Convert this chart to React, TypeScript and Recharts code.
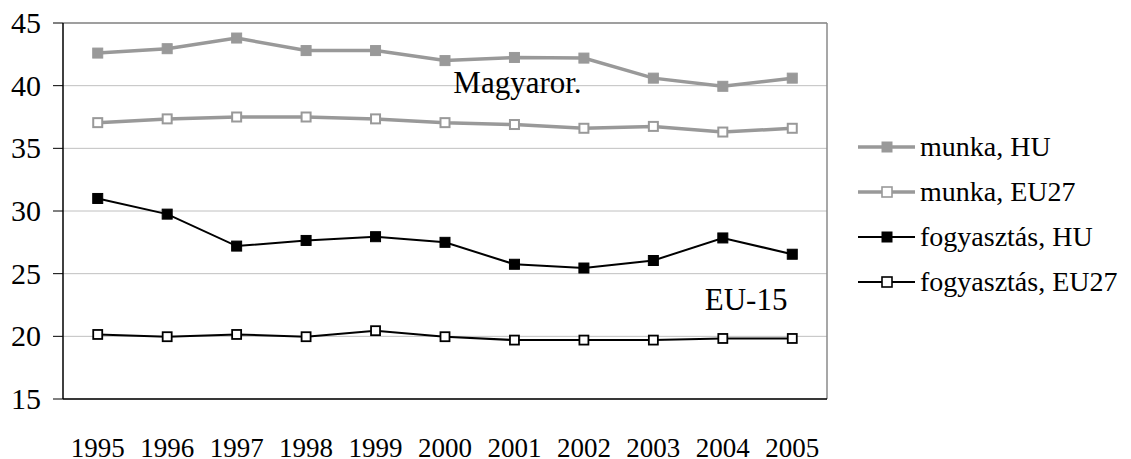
import React from 'react';
import {
  LineChart,
  Line,
  XAxis,
  YAxis,
  CartesianGrid,
  Legend,
  ReferenceLine,
  ReferenceDot,
} from 'recharts';

const years = ['1995', '1996', '1997', '1998', '1999', '2000', '2001', '2002', '2003', '2004', '2005'];
const munkaHU = [42.6, 42.95, 43.8, 42.8, 42.8, 42.0, 42.25, 42.2, 40.6, 39.95, 40.6];
const munkaEU = [37.05, 37.35, 37.5, 37.5, 37.35, 37.05, 36.9, 36.6, 36.75, 36.3, 36.6];
const fogyHU = [31.0, 29.75, 27.2, 27.65, 27.95, 27.5, 25.75, 25.45, 26.05, 27.85, 26.55];
const fogyEU = [20.15, 19.97, 20.15, 19.97, 20.45, 19.97, 19.7, 19.7, 19.7, 19.83, 19.83];
const yTicks = [15, 20, 25, 30, 35, 40, 45];

const FONT = 'Liberation Serif';
const GRAY = '#999999';

const data = years.map((y, i) => ({
  pos: i + 0.5,
  year: y,
  munkaHU: munkaHU[i],
  munkaEU: munkaEU[i],
  fogyHU: fogyHU[i],
  fogyEU: fogyEU[i],
}));

type Series = { key: string; name: string; color: string; width: number; filled: boolean };

const SERIES: Series[] = [
  { key: 'munkaHU', name: 'munka, HU', color: GRAY, width: 3.5, filled: true },
  { key: 'munkaEU', name: 'munka, EU27', color: GRAY, width: 3.5, filled: false },
  { key: 'fogyHU', name: 'fogyasztás, HU', color: '#000', width: 2, filled: true },
  { key: 'fogyEU', name: 'fogyasztás, EU27', color: '#000', width: 2, filled: false },
];

const squareDot = (s: Series) => (props: any) => {
  const { cx, cy, index } = props;
  if (cx == null || cy == null) return <g key={index} />;
  const sz = s.filled ? 10 : 9;
  return (
    <rect
      key={index}
      x={cx - sz / 2}
      y={cy - sz / 2}
      width={sz}
      height={sz}
      fill={s.filled ? s.color : '#fff'}
      stroke={s.color}
      strokeWidth={s.filled ? 1 : s.width === 2 ? 1.8 : 2}
    />
  );
};

// tick labels drawn by hand so the serif font sticks
const YTick = (props: any) => {
  const { x, y, payload } = props;
  return (
    <text x={x} y={y} dy={10} fontFamily={FONT} fontSize={30} fill="#000" textAnchor="end">
      {payload.value}
    </text>
  );
};

const XTick = (props: any) => {
  const { x, y, payload } = props;
  return (
    <text x={x} y={y} dy={19} fontFamily={FONT} fontSize={27} fill="#000" textAnchor="middle">
      {years[Math.floor(payload.value)]}
    </text>
  );
};

const LegendBox = () => (
  <svg width={273} height={180}>
    {SERIES.map((s, i) => {
      const cy = 22 + i * 45;
      return (
        <g key={s.key}>
          <line x1={0} y1={cy} x2={57} y2={cy} stroke={s.color} strokeWidth={s.width} />
          <rect
            x={24}
            y={cy - 5}
            width={10}
            height={10}
            fill={s.filled ? s.color : '#fff'}
            stroke={s.color}
            strokeWidth={s.filled ? 1 : 1.6}
          />
          <text x={62} y={cy + 9} fontFamily={FONT} fontSize={28} fill="#000">
            {s.name}
          </text>
        </g>
      );
    })}
  </svg>
);

const Note = (text: string) => (props: any) => (
  <text x={props.cx} y={props.cy} fontFamily={FONT} fontSize={31} fill="#000" textAnchor="start">
    {text}
  </text>
);

export default function App() {
  return (
    <div style={{ width: 1131, height: 459, background: '#fff', fontFamily: FONT }}>
      <style>{'body{margin:0}'}</style>
      <LineChart
        width={1131}
        height={459}
        data={data}
        margin={{ top: 23, right: 304, bottom: 0, left: 0 }}
      >
        <CartesianGrid xAxisId="band" vertical={false} stroke="#c0c0c0" />
        <XAxis
          xAxisId="band"
          type="number"
          dataKey="pos"
          domain={[0, 11]}
          ticks={[0, 1, 2, 3, 4, 5, 6, 7, 8, 9, 10, 11]}
          tick={false}
          tickSize={10}
          height={10}
          stroke="#000"
          axisLine={{ stroke: '#000', strokeWidth: 1.5 }}
          tickLine={{ stroke: '#000' }}
        />
        <XAxis
          xAxisId="lbl"
          type="number"
          dataKey="pos"
          domain={[0, 11]}
          ticks={data.map((d) => d.pos)}
          interval={0}
          axisLine={false}
          tickLine={false}
          tickSize={0}
          tickMargin={29}
          height={50}
          tick={<XTick />}
        />
        <YAxis
          type="number"
          domain={[15, 45]}
          ticks={yTicks}
          interval={0}
          width={63}
          tickSize={10}
          tickMargin={12}
          axisLine={{ stroke: '#000', strokeWidth: 1.5 }}
          tickLine={{ stroke: '#000' }}
          tick={<YTick />}
        />
        <ReferenceLine xAxisId="band" y={45} stroke="#8a8a8a" strokeWidth={1.5} />
        <ReferenceLine xAxisId="band" x={11} stroke="#8a8a8a" strokeWidth={1.5} />
        {SERIES.map((s) => (
          <Line
            key={s.key}
            xAxisId="band"
            type="linear"
            dataKey={s.key}
            name={s.name}
            stroke={s.color}
            strokeWidth={s.width}
            dot={squareDot(s)}
            activeDot={false}
            isAnimationActive={false}
          />
        ))}
        <ReferenceDot xAxisId="band" x={5.62} y={39.41} r={0} shape={Note('Magyaror.')} />
        <ReferenceDot xAxisId="band" x={9.24} y={22.1} r={0} shape={Note('EU-15')} />
        <Legend
          layout="vertical"
          align="center"
          verticalAlign="middle"
          content={() => <LegendBox />}
          wrapperStyle={{ position: 'absolute', left: 858, top: 125, width: 273 }}
        />
      </LineChart>
    </div>
  );
}
